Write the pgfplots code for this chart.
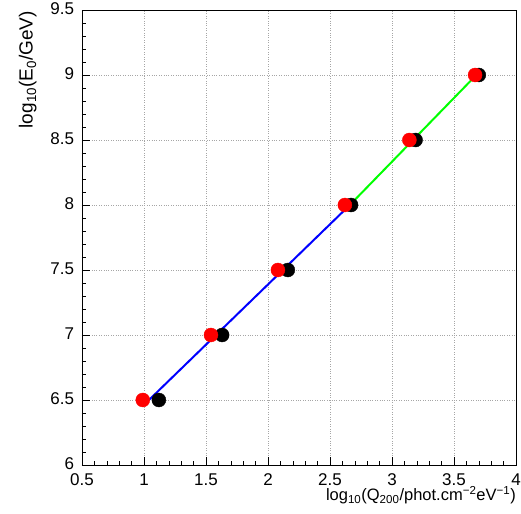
\documentclass[border=0pt]{standalone}
\usepackage{fontspec}
\setmainfont{Liberation Sans}
\usepackage{pgfplots}
\pgfplotsset{compat=1.18}
\begin{document}
\begin{tikzpicture}
\path[use as bounding box] (-82pt,-48pt) rectangle (439pt,465pt);
\begin{axis}[
  at={(0pt,0pt)}, anchor=south west,
  scale only axis, width=434pt, height=455pt,
  xmin=0.5, xmax=4, ymin=6, ymax=9.5,
  xtick={0.5,1,...,4}, ytick={6,6.5,...,9.5},
  xticklabels={0.5,1,1.5,2,2.5,3,3.5,4},
  yticklabels={6,6.5,7,7.5,8,8.5,9,9.5},
  minor tick num=4,
  tick pos=left, tick align=inside,
  major tick length=8pt, minor tick length=4pt,
  every tick/.style={black, line width=0.6pt},
  axis line style={black, line width=0.8pt},
  grid=major,
  major grid style={gray!70, dotted, line width=0.9pt},
  font=\fontsize{17}{20}\selectfont,
  ticklabel style={font=\fontsize{17}{20}\selectfont, inner sep=0.5pt},
  /pgf/number format/assume math mode=true,
  xticklabel style={yshift=-8.2pt},
  yticklabel style={xshift=-7.2pt, yshift=1.5pt},
  xlabel={log\textsubscript{10}(Q\textsubscript{200}/phot.cm\textsuperscript{−2}eV\textsuperscript{−1})},
  ylabel={log\textsubscript{10}(E\textsubscript{0}/GeV)},
  xlabel style={at={(axis description cs:1,-0.047)}, anchor=north east, inner sep=0pt, font=\fontsize{16.5}{20}\selectfont},
  ylabel style={at={(axis description cs:-0.104,0.998)}, anchor=south east, inner sep=0pt, font=\fontsize{19}{22}\selectfont},
]
\addplot[only marks, mark=*, mark size=7pt, black, mark options={fill=black, draw=black}] coordinates {
(1.12,6.5) (1.63,7.0) (2.16,7.5) (2.67,8.0) (3.19,8.5) (3.70,9.0)};
\addplot[only marks, mark=*, mark size=7pt, red, mark options={fill=red, draw=red}] coordinates {
(0.99,6.5) (1.54,7.0) (2.08,7.5) (2.62,8.0) (3.14,8.5) (3.67,9.0)};
\addplot[blue, line width=2pt, no marks] coordinates {(1.04,6.5) (2.66,8.0)};
\addplot[green, line width=2pt, no marks] coordinates {(2.66,8.0) (3.68,9.0)};
\end{axis}
\end{tikzpicture}
\end{document}
